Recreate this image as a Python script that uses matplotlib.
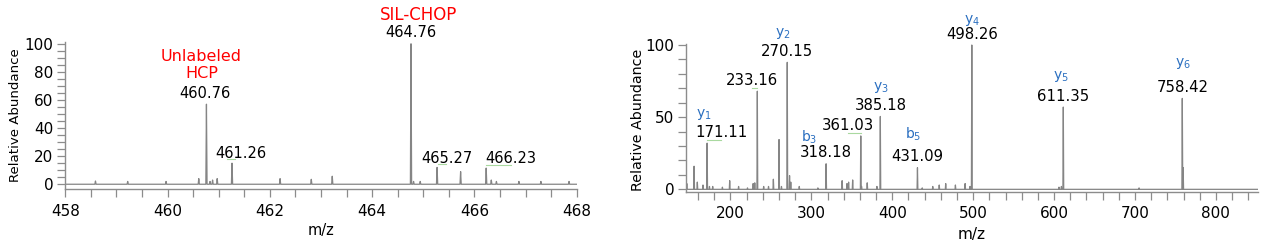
"""Two mass spectra side by side: MS1 isotope cluster and MS2 fragment spectrum."""
import numpy as np
import matplotlib
matplotlib.use('Agg')
import matplotlib.pyplot as plt
from matplotlib.lines import Line2D
from matplotlib.transforms import IdentityTransform
from matplotlib.ticker import MultipleLocator

OUT_FILE = 'out.png'

# ---- left panel: MS1 (m/z, relative abundance) ----
ms1_labeled_mz = [460.76, 461.26, 464.76, 465.27, 466.23]
ms1_labeled_int = [57, 15, 100, 12, 11.5]
ms1_minor_mz = [458.59, 459.22, 459.97, 460.61, 460.83, 460.88, 460.97,
                462.20, 462.81, 463.22, 464.81, 464.94, 465.73, 466.33,
                466.43, 466.87, 467.30, 467.85]
ms1_minor_int = [2.3, 2, 2, 4, 2, 3, 4, 4, 3.5, 5.7, 2, 2, 9, 3, 2, 2, 2, 2]
ms1_tags = ['460.76', '461.26', '464.76', '465.27', '466.23']

# ---- right panel: MS2 fragments ----
ms2_labeled_mz = [171.11, 233.16, 270.15, 318.18, 361.03, 385.18, 431.09,
                  498.26, 611.35, 758.42]
ms2_labeled_int = [32, 68, 88, 17.7, 37, 50.5, 15, 100, 57, 63]
ms2_ions = ['y$_1$', None, 'y$_2$', 'b$_3$', None, 'y$_3$', 'b$_5$',
            'y$_4$', 'y$_5$', 'y$_6$']
ms2_minor_mz = [146, 155, 159, 166, 174, 178, 190, 199, 210, 221, 228, 230,
                241, 247, 253, 260, 263, 273, 274.5, 285, 308, 338, 344,
                346, 351, 362, 369, 381, 437, 450, 458, 466, 478, 490, 496,
                606, 609, 705, 759.5]
ms2_minor_int = [4, 16, 5, 3, 2, 2, 1.5, 6, 2, 1, 4, 4.5, 2, 2, 7, 34.5, 2,
                 9.5, 5, 2, 1, 6, 4, 5, 6.5, 2, 4.5, 2, 1, 2, 3, 4, 3, 4, 2,
                 1.5, 2, 1, 15]

# label offsets in pixels from peak top (layout only)
MS1_NUM_OFFSETS = [(-2, 11), (9, 10), (0, 11), (10, 9), (25, 10)]
MS2_NUM_OFFSETS = [(14, 11), (-5, 11), (0, 11), (0, 11), (-13, 10),
                   (0, 11), (0, 11), (0, 11), (0, 11), (0, 11)]
MS2_ION_OFFSETS = [(-3, 29), None, (-4, 29), (-17, 26), None, (1, 29),
                   (-4, 33), (0, 25), (-2, 31), (1, 35)]
# faint green leader ticks: (x0, x1, dy) pixels from peak top, or None
MS1_LEADERS = [None, (-5, 3, 4), None, (1, 9, 3), (0, 25, 3)]
MS2_LEADERS = [(0, 14, 3), (-5, 0, 3), None, None, (-13, 0, 3),
               None, None, None, None, None]

GREY = '#858585'
RED = '#ff0000'
BLUE = '#2a6fc0'
LEADER_GREEN = '#a9d9a0'


def profile_trace(mz, inten, half_width, lo, hi):
    """Turn centroid peaks into a simple profile trace along a baseline."""
    order = np.argsort(mz)
    xs, ys = [lo], [0]
    for i in order:
        xs += [mz[i] - half_width, mz[i], mz[i] + half_width]
        ys += [0, inten[i], 0]
    xs.append(hi)
    ys.append(0)
    return np.array(xs), np.array(ys)


def style_axes(ax, xmaj, xmin, ymaj, ymin, tick_len, tick_size):
    for side in ['top', 'right']:
        ax.spines[side].set_visible(False)
    for side in ['left', 'bottom']:
        ax.spines[side].set_color('#8c8c8c')
        ax.spines[side].set_linewidth(1.0)
    ax.xaxis.set_major_locator(MultipleLocator(xmaj))
    ax.xaxis.set_minor_locator(MultipleLocator(xmin))
    ax.yaxis.set_major_locator(MultipleLocator(ymaj))
    ax.yaxis.set_minor_locator(MultipleLocator(ymin))
    ax.tick_params(which='both', direction='out', color='#8c8c8c',
                   length=tick_len, width=0.9, labelsize=tick_size)
    ax.tick_params(axis='y', pad=3)
    ax.tick_params(axis='x', pad=5)


def draw_leaders(fig, ax, mzs, heights, leaders):
    """Short green leader lines next to some peak labels (pixel offsets)."""
    for mz, h, lead in zip(mzs, heights, leaders):
        if lead is None:
            continue
        px, py = ax.transData.transform((mz, h))
        fig.add_artist(Line2D([px + lead[0], px + lead[1]],
                              [py + lead[2], py + lead[2]],
                              transform=IdentityTransform(),
                              color=LEADER_GREEN, lw=0.8))


plt.rcParams['font.family'] = ['DejaVu Sans']
plt.rcParams['mathtext.default'] = 'regular'

fig = plt.figure(figsize=(12.74, 2.47), dpi=100)
W, H = 1274, 247

# ---------------- left panel ----------------
ax1 = fig.add_axes([65.3 / W, 1 - 189.3 / H, 511.4 / W, 147.6 / H])
mz1 = ms1_labeled_mz + ms1_minor_mz
in1 = ms1_labeled_int + ms1_minor_int
x1, y1 = profile_trace(mz1, in1, 0.012, 458, 468)
ax1.plot(x1, y1, color=GREY, lw=0.9)
ax1.set_xlim(458, 468)
ax1.set_ylim(-3.6, 101.5)
style_axes(ax1, 2, 0.5, 20, 5, 5.5, 11)
ax1.set_xlabel('m/z', fontsize=10.5)
ax1.xaxis.set_label_coords(0.5, -0.276)
ax1.xaxis.label.set_va('center')
ax1.set_ylabel('Relative Abundance', fontsize=9.6)
ax1.yaxis.set_label_coords(-0.098, 0.5)
ax1.yaxis.label.set_va('center')

for mz, h, tag, off in zip(ms1_labeled_mz, ms1_labeled_int, ms1_tags,
                           MS1_NUM_OFFSETS):
    ax1.annotate(tag, (mz, h), xytext=off, textcoords='offset pixels',
                 ha='center', va='center', fontsize=10.5, color='black')
ax1.annotate('Unlabeled\nHCP', (460.76, 57), xytext=(-5, 39),
             textcoords='offset pixels', ha='center', va='center',
             fontsize=11.5, color=RED, linespacing=1.2)
ax1.annotate('SIL-CHOP', (464.76, 100), xytext=(8, 29),
             textcoords='offset pixels', ha='center', va='center',
             fontsize=12, color=RED)

# ---------------- right panel ----------------
ax2 = fig.add_axes([686 / W, 1 - 191.5 / H, 572 / W, 147.5 / H])
mz2 = ms2_labeled_mz + ms2_minor_mz
in2 = ms2_labeled_int + ms2_minor_int
x2, y2 = profile_trace(mz2, in2, 0.5, 145, 852)
ax2.plot(x2, y2, color=GREY, lw=0.9)
ax2.set_xlim(145, 852)
ax2.set_ylim(-1.5, 100.7)
style_axes(ax2, 100, 20, 50, 10, 5.5, 11)
ax2.set_xlabel('m/z', fontsize=11)
ax2.xaxis.set_label_coords(0.5, -0.29)
ax2.xaxis.label.set_va('center')
ax2.set_ylabel('Relative Abundance', fontsize=10.3)
ax2.yaxis.set_label_coords(-0.084, 0.487)
ax2.yaxis.label.set_va('center')

for mz, h, ion, noff, ioff in zip(ms2_labeled_mz, ms2_labeled_int, ms2_ions,
                                  MS2_NUM_OFFSETS, MS2_ION_OFFSETS):
    ax2.annotate(f'{mz:.2f}', (mz, h), xytext=noff,
                 textcoords='offset pixels', ha='center', va='center',
                 fontsize=10.7, color='black')
    if ion is not None:
        ax2.annotate(ion, (mz, h), xytext=ioff, textcoords='offset pixels',
                     ha='center', va='center', fontsize=10, color=BLUE)

draw_leaders(fig, ax1, ms1_labeled_mz, ms1_labeled_int, MS1_LEADERS)
draw_leaders(fig, ax2, ms2_labeled_mz, ms2_labeled_int, MS2_LEADERS)

fig.savefig(OUT_FILE, dpi=100)
plt.close(fig)
